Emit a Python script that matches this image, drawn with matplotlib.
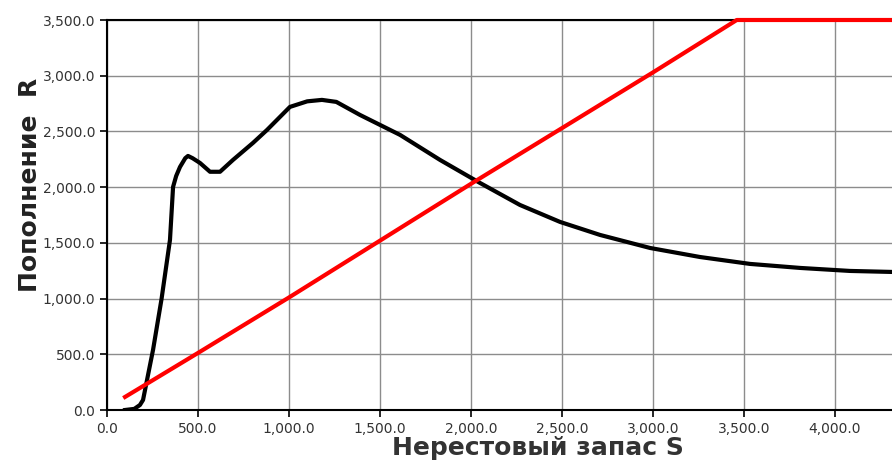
import numpy as np
import matplotlib.pyplot as plt
from matplotlib.ticker import FuncFormatter, MultipleLocator

# black curve: пополнение vs нерестовый запас
s_black = [99, 150, 181, 198, 220, 253, 300, 346, 363, 380, 401, 430, 445, 470, 511, 566, 621, 692,
           802, 879, 1005, 1100, 1181, 1260, 1390, 1610, 1830, 2049, 2269, 2489, 2709, 2984,
           3258, 3533, 3808, 4082, 4313]
r_black = [0, 10, 45, 90, 270, 540, 1000, 1526, 2002, 2100, 2181, 2260, 2280, 2260, 2217, 2138,
           2138, 2244, 2397, 2513, 2720, 2770, 2783, 2765, 2648, 2469, 2244, 2038, 1840, 1688,
           1571, 1454, 1373, 1311, 1275, 1248, 1239]

# red line: replacement line, capped at 3500
s_red = [99, 500, 1000, 2000, 3000, 3460, 4313]
r_red = [117, 512, 1010, 2030, 3030, 3500, 3500]

plt.rcParams['font.family'] = ['DejaVu Sans']

fig = plt.figure(figsize=(8.92, 4.63), dpi=100)
ax = fig.add_axes([107/892, 53/463, 785/892, 390/463])

ax.plot(s_black, r_black, color='black', lw=3, solid_joinstyle='round', zorder=3)
ax.plot(s_red, r_red, color='#ff0000', lw=3, zorder=4, clip_on=False)

ax.set_xlim(0, 4313)
ax.set_ylim(0, 3500)
ax.xaxis.set_major_locator(MultipleLocator(500))
ax.yaxis.set_major_locator(MultipleLocator(500))
fmt = FuncFormatter(lambda v, p: f"{v:,.1f}")
ax.xaxis.set_major_formatter(fmt)
ax.yaxis.set_major_formatter(fmt)

ax.grid(True, color='#8c8c8c', lw=1)
ax.set_axisbelow(True)
ax.spines['right'].set_visible(False)
for sp in ['left', 'bottom', 'top']:
    ax.spines[sp].set_linewidth(1.5)
ax.tick_params(direction='out', length=5, width=1.2, labelsize=10, labelcolor='#333333')

fig.text(538/892, 0.018, "Нерестовый запас S", ha='center', va='baseline',
         fontsize=18, fontweight='bold', color='#333333')
fig.text(0.034, 0.60, "Пополнение  R", ha='center', va='center', rotation=90,
         fontsize=18, fontweight='bold', color='#222222')

fig.savefig('out.png', dpi=100)
